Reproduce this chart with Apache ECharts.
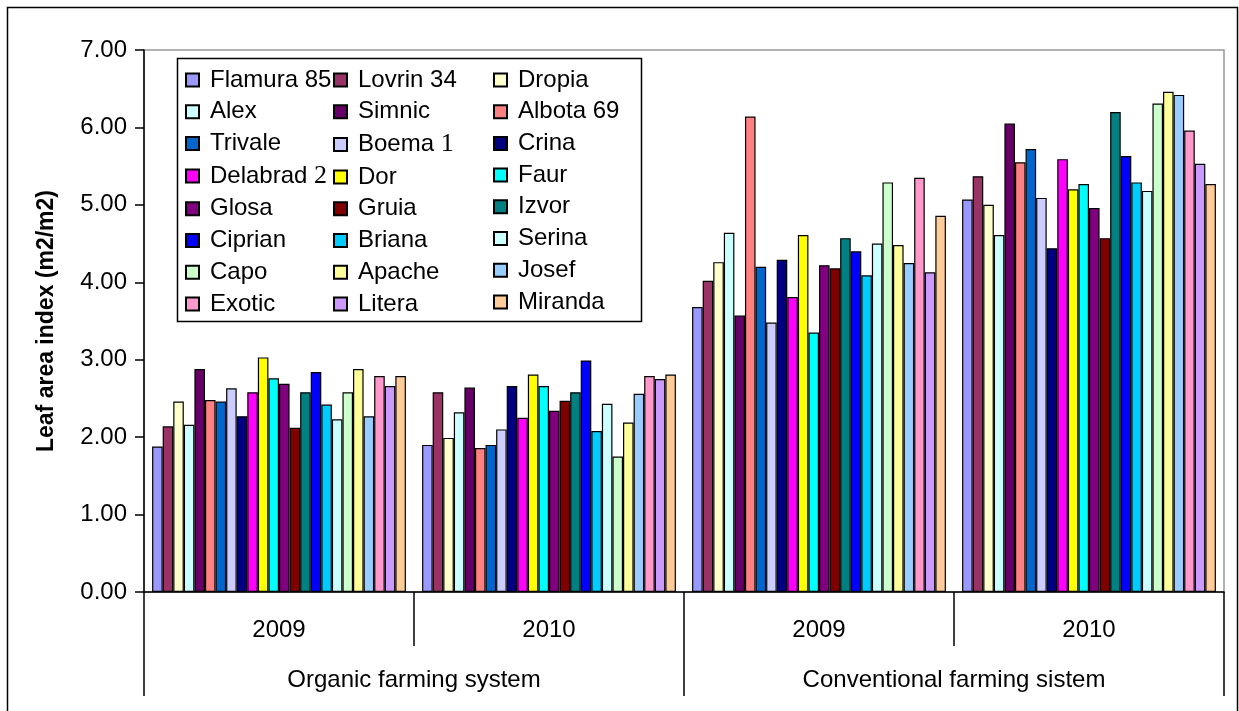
<!DOCTYPE html>
<html>
<head>
<meta charset="utf-8">
<script src="https://cdn.jsdelivr.net/npm/echarts@6/dist/echarts.min.js"></script>
<style>
html,body{margin:0;padding:0;background:#fff;}
#chart{width:1239px;height:711px;}
</style>
</head>
<body>
<div id="chart"></div>
<script>
const cultivars = ['Flamura 85','Lovrin 34','Dropia','Alex','Simnic','Albota 69','Trivale','Boema 1','Crina','Delabrad 2','Dor','Faur','Glosa','Gruia','Izvor','Ciprian','Briana','Serina','Capo','Apache','Josef','Exotic','Litera','Miranda'];
const colors = ['#9999FF','#993366','#FFFFCC','#CCFFFF','#660066','#FF8080','#0066CC','#CCCCFF','#000080','#FF00FF','#FFFF00','#00FFFF','#800080','#800000','#008080','#0000FF','#00CCFF','#CCFFFF','#CCFFCC','#FFFF99','#99CCFF','#FF99CC','#CC99FF','#FFCC99'];
const years = ['2009','2010','2009','2010'];
const systems = ['Organic farming system','Conventional farming sistem'];
const organic2009 = [1.88,2.14,2.46,2.16,2.88,2.48,2.46,2.63,2.27,2.58,3.03,2.76,2.69,2.12,2.58,2.84,2.42,2.23,2.58,2.88,2.27,2.79,2.66,2.79];
const organic2010 = [1.90,2.58,1.99,2.32,2.64,1.86,1.90,2.10,2.66,2.25,2.81,2.66,2.34,2.47,2.58,2.99,2.08,2.43,1.75,2.19,2.56,2.79,2.75,2.81];
const conventional2009 = [3.68,4.02,4.26,4.64,3.57,6.14,4.20,3.48,4.29,3.81,4.61,3.35,4.22,4.18,4.57,4.40,4.09,4.50,5.29,4.48,4.25,5.35,4.13,4.86];
const conventional2010 = [5.07,5.37,5.00,4.61,6.05,5.55,5.72,5.09,4.44,5.59,5.20,5.27,4.96,4.57,6.20,5.63,5.29,5.18,6.31,6.46,6.42,5.96,5.53,5.27];

const FONT = 'Liberation Sans';
const chart = echarts.init(document.getElementById('chart'), null, {renderer:'canvas'});

const series = cultivars.map((name, i) => ({
  name: name,
  type: 'bar',
  barGap: '0%',
  barCategoryGap: '6%',
  data: [organic2009[i], organic2010[i], conventional2009[i], conventional2010[i]],
  itemStyle: {color: colors[i], borderColor: '#000', borderWidth: 1.2},
  emphasis: {disabled: true},
  animation: false
}));

function legendCol(col, left) {
  return {
    orient: 'vertical',
    left: left,
    top: 68,
    padding: 0,
    itemGap: 7.7,
    itemWidth: 13,
    itemHeight: 13,
    icon: 'rect',
    selectedMode: false,
    data: cultivars.filter((_, i) => i % 3 === col),
    formatter: function (n) {
      if (n === 'Boema 1') return '{a|Boema }{b|1}';
      if (n === 'Delabrad 2') return '{a|Delabrad}{b| 2}';
      return n;
    },
    textStyle: {
      fontFamily: FONT, fontSize: 24, color: '#000', lineHeight: 24, padding: [0,0,0,6],
      rich: {
        a: {fontFamily: FONT, fontSize: 24, color: '#000', lineHeight: 24},
        b: {fontFamily: 'Liberation Serif', fontSize: 26, color: '#000', lineHeight: 24}
      }
    }
  };
}

const option = {
  backgroundColor: '#fff',
  animation: false,
  textStyle: {fontFamily: FONT},
  grid: {left: 144, top: 50, right: 15, bottom: 119, show: true, borderColor: '#999', borderWidth: 1.5, containLabel: false},
  legend: [legendCol(0, 185), legendCol(1, 333), legendCol(2, 493)],
  xAxis: [
    {
      type: 'category',
      data: years,
      position: 'bottom',
      axisLine: {show: true, lineStyle: {color: '#000', width: 1.5}},
      axisTick: {show: true, length: 54, lineStyle: {color: '#000', width: 1.5}},
      axisLabel: {margin: 26, fontSize: 24, lineHeight: 24, color: '#000', fontFamily: FONT},
      splitLine: {show: false}
    },
    {
      type: 'category',
      data: systems,
      position: 'bottom',
      gridIndex: 0,
      axisLine: {show: false},
      axisTick: {show: true, length: 104, lineStyle: {color: '#000', width: 1.5}},
      axisLabel: {margin: 76, fontSize: 24, lineHeight: 24, color: '#000', fontFamily: FONT},
      splitLine: {show: false}
    }
  ],
  yAxis: {
    type: 'value',
    min: 0, max: 7, interval: 1,
    name: 'Leaf area index (m2/m2)',
    nameLocation: 'middle',
    nameGap: 86,
    nameRotate: 90,
    nameTextStyle: {fontFamily: FONT, fontSize: 23, fontWeight: 'bold', color: '#000'},
    axisLine: {show: true, lineStyle: {color: '#000', width: 1.5}},
    axisTick: {show: true, length: 9, lineStyle: {color: '#000', width: 1.5}},
    axisLabel: {margin: 17, fontSize: 24, color: '#000', fontFamily: FONT, formatter: v => v.toFixed(2)},
    splitLine: {show: false}
  },
  graphic: [
    {type: 'rect', silent: true, z: -1, shape: {x: 7.5, y: 7.5, width: 1230, height: 720}, style: {fill: null, stroke: '#000', lineWidth: 1.5}},
    {type: 'rect', silent: true, z: 0, shape: {x: 177.5, y: 58.5, width: 464, height: 263}, style: {fill: '#fff', stroke: '#000', lineWidth: 1.5}}
  ],
  series: series
};
chart.setOption(option);
</script>
</body>
</html>
